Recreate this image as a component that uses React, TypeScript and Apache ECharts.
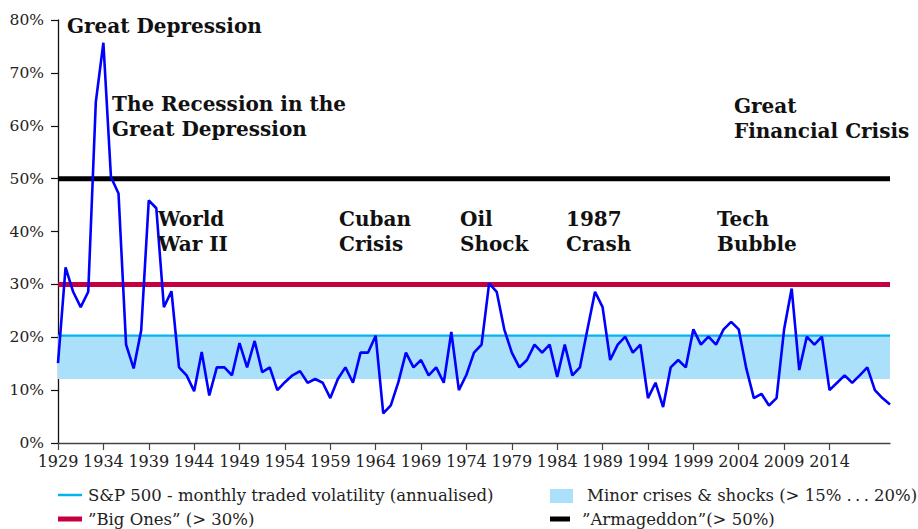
import React, { useEffect, useRef } from "react";
import * as echarts from "echarts";

// Tick labels (one every 6 samples)
const periodLabels = [
  "1929", "1934", "1939", "1944", "1949", "1954", "1959", "1964", "1969",
  "1974", "1979", "1984", "1989", "1994", "1999", "2004", "2009", "2014",
];
const samplesPerLabel = 6;

// S&P 500 volatility readings (%), one per sample
const volatility = [
  15.1, 33.2, 28.6, 25.7, 28.6, 64.5, 75.7, 50.3, 47.2, 18.6,
  14.1, 21.3, 45.9, 44.4, 25.7, 28.7, 14.3, 12.8, 9.8, 17.2,
  9.0, 14.3, 14.3, 12.8, 18.9, 14.3, 19.3, 13.4, 14.3, 10.0,
  11.5, 12.8, 13.6, 11.4, 12.1, 11.4, 8.5, 12.1, 14.3, 11.4,
  17.1, 17.1, 20.3, 5.6, 7.1, 11.5, 17.1, 14.3, 15.7, 12.8,
  14.3, 11.4, 21.0, 10.0, 12.9, 17.1, 18.6, 30.2, 28.6, 21.5,
  17.1, 14.3, 15.7, 18.6, 17.1, 18.6, 12.5, 18.6, 12.8, 14.3,
  21.5, 28.6, 25.7, 15.7, 18.6, 20.1, 17.1, 18.6, 8.5, 11.4,
  6.8, 14.3, 15.7, 14.3, 21.5, 18.6, 20.1, 18.6, 21.5, 22.9,
  21.5, 14.1, 8.5, 9.3, 7.1, 8.5, 21.5, 29.2, 13.8, 20.1,
  18.6, 20.1, 10.0, 11.4, 12.8, 11.4, 12.8, 14.3, 10.0, 8.5,
  7.3,
];

const minorBand = [12.1, 20.3];
const bigOnes = 30;
const armageddon = 50;

const legendTexts = [
  "S&P 500 - monthly traded volatility (annualised)",
  "Minor crises & shocks (> 15% .\u2009.\u2009. 20%)",
  "\u201DBig Ones\u201D (> 30%)",
  "\u201DArmageddon\u201D(> 50%)",
];

const annotations = [
  { text: "Great Depression", x: 67, y: 26 },
  { text: "The Recession in the\nGreat Depression", x: 112, y: 104 },
  { text: "World\nWar II", x: 158, y: 219 },
  { text: "Cuban\nCrisis", x: 339, y: 219 },
  { text: "Oil\nShock", x: 460, y: 219 },
  { text: "1987\nCrash", x: 566, y: 219 },
  { text: "Tech\nBubble", x: 717, y: 219 },
  { text: "Great\nFinancial Crisis", x: 734, y: 106 },
];

const SERIF = "'DejaVu Serif', serif";
const BLUE = "#0000ff";
const CYAN = "#00b4f0";
const BAND = "#abe0fa";
const CRIMSON = "#c4003f";
const ANNOT_LINE = 25;

export default function App() {
  const ref = useRef<HTMLDivElement>(null);
  useEffect(() => {
    document.body.style.margin = "0";
    if (!ref.current) return;
    const chart = echarts.init(ref.current, undefined, { renderer: "svg" });
    const lastX = volatility.length - 1;
    const tickValues = periodLabels.map((_, i) => i * samplesPerLabel);
    const hLine = (v: number) => [
      [0, v],
      [lastX, v],
    ];
    chart.setOption({
      animation: false,
      grid: { left: 58, right: 28, top: 20, bottom: 86 },
      xAxis: {
        type: "value",
        min: 0,
        max: lastX,
        axisLine: { show: true, onZero: false, lineStyle: { color: "#444", width: 1.3 } },
        axisTick: {
          show: true,
          length: 7,
          customValues: tickValues,
          lineStyle: { color: "#444", width: 1.2 },
        },
        axisLabel: {
          customValues: tickValues,
          formatter: (v: number) => periodLabels[Math.round(v / samplesPerLabel)] ?? "",
          fontFamily: SERIF,
          fontSize: 16,
          color: "#222",
          margin: 10,
        },
        splitLine: { show: false },
      },
      yAxis: {
        type: "value",
        min: 0,
        max: 80,
        interval: 10,
        axisLine: { show: true, lineStyle: { color: "#111", width: 1.3 } },
        axisTick: { show: true, length: 7, lineStyle: { color: "#111", width: 1.2 } },
        axisLabel: {
          formatter: (v: number) => `${v}%`,
          fontFamily: SERIF,
          fontSize: 15.5,
          color: "#222",
          margin: 14,
        },
        splitLine: { show: false },
      },
      series: [
        {
          type: "line",
          name: "band",
          data: [],
          z: 1,
          markArea: {
            silent: true,
            itemStyle: { color: BAND, opacity: 1 },
            data: [[{ yAxis: minorBand[0] }, { yAxis: minorBand[1] }]],
          },
        },
        {
          type: "line",
          data: hLine(minorBand[1]),
          symbol: "none",
          lineStyle: { color: CYAN, width: 2.2 },
          z: 2,
        },
        {
          type: "line",
          data: hLine(bigOnes),
          symbol: "none",
          lineStyle: { color: CRIMSON, width: 5 },
          z: 3,
        },
        {
          type: "line",
          data: hLine(armageddon),
          symbol: "none",
          lineStyle: { color: "#000", width: 5 },
          z: 3,
        },
        {
          type: "line",
          data: volatility.map((v, i) => [i, v]),
          symbol: "none",
          lineStyle: { color: BLUE, width: 2.6 },
          z: 5,
        },
      ],
      graphic: [
        ...annotations.map((a) => ({
          type: "text",
          x: a.x,
          y: a.y - ANNOT_LINE / 2,
          z: 10,
          style: {
            text: a.text,
            fontFamily: SERIF,
            fontWeight: "bold",
            fontSize: 20,
            lineHeight: ANNOT_LINE,
            fill: "#111",
            verticalAlign: "top",
            align: "left",
          },
        })),
        { type: "line", shape: { x1: 58, y1: 495, x2: 82, y2: 495 }, style: { stroke: CYAN, lineWidth: 2.5 } },
        { type: "rect", shape: { x: 550, y: 489, width: 23, height: 14 }, style: { fill: BAND } },
        { type: "line", shape: { x1: 58, y1: 519, x2: 82, y2: 519 }, style: { stroke: CRIMSON, lineWidth: 5 } },
        { type: "line", shape: { x1: 550, y1: 519, x2: 570, y2: 519 }, style: { stroke: "#000", lineWidth: 5 } },
        ...[
          { t: legendTexts[0], x: 88, y: 495 },
          { t: legendTexts[1], x: 587, y: 495 },
          { t: legendTexts[2], x: 88, y: 519 },
          { t: legendTexts[3], x: 582, y: 519 },
        ].map((l) => ({
          type: "text",
          x: l.x,
          y: l.y,
          style: {
            text: l.t,
            fontFamily: SERIF,
            fontSize: 16.5,
            fill: "#222",
            verticalAlign: "middle",
            align: "left",
          },
        })),
      ],
    });
    return () => chart.dispose();
  }, []);
  return <div ref={ref} style={{ width: 918, height: 529 }} />;
}
